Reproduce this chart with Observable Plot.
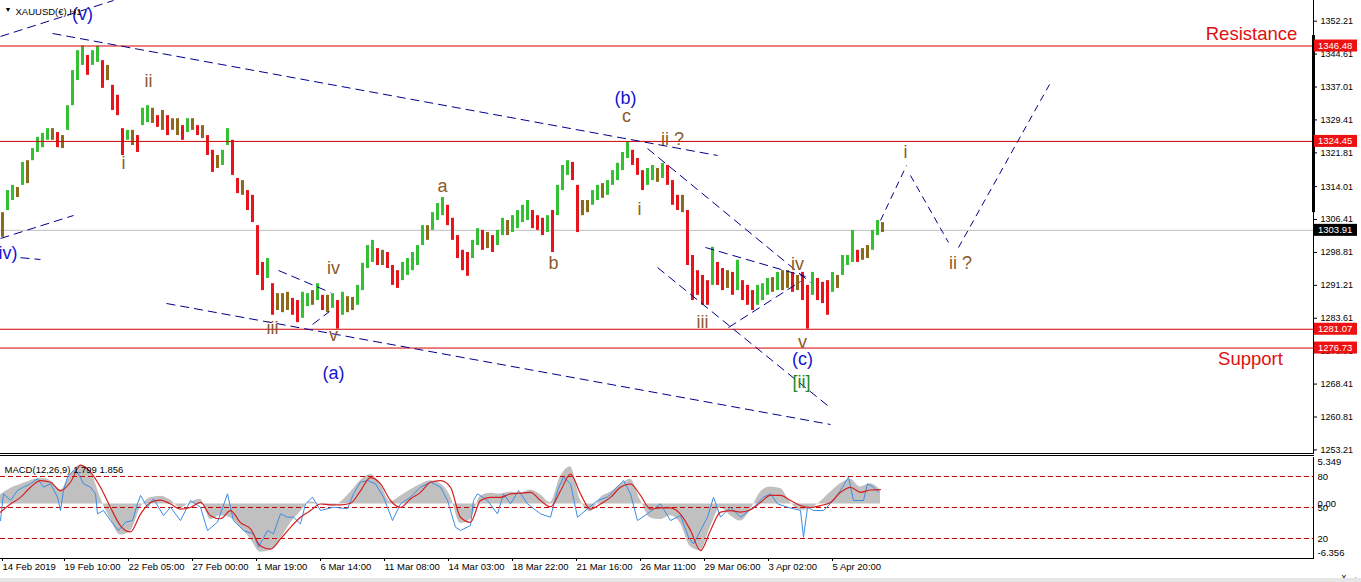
<!DOCTYPE html>
<html><head><meta charset="utf-8">
<script src="https://cdn.jsdelivr.net/npm/d3@7"></script>
<script src="https://cdn.jsdelivr.net/npm/@observablehq/plot@0.6"></script>
<style>
html,body{margin:0;padding:0;background:#fff;}
#wrap{position:relative;width:1361px;height:582px;overflow:hidden;background:#fff;font-family:"Liberation Sans",Arial,sans-serif;}
#main{position:absolute;left:0;top:0;}
#sep{position:absolute;left:0;top:453px;width:1314px;height:0;border-top:3px double #000;}
#macd{position:absolute;left:0;top:456px;}
#tabbar{position:absolute;left:0;top:578px;width:1361px;height:4px;background:#e6e6e6;}
</style>
</head><body>
<div id="wrap"><div id="main"></div><div id="sep"></div><div id="macd"></div><div id="tabbar"></div></div>
<script>
// ---------- data ----------
const symbolTitle = "XAUUSD(€),H1";
const priceTicks = [1352.21,1344.61,1337.01,1329.41,1321.81,1314.01,1306.41,1298.81,1291.21,1283.61,1276.01,1268.41,1260.81,1253.21];
const levelPrices = [1346.48, 1324.45, 1281.07, 1276.73];
const lastPrice = 1303.91;
const scrollRange = [1348.9, 1308.0];
const barsPerSample = 5;
const hi = [1308.0,1313.1,1314.3,1313.8,1319.6,1320.0,1322.8,1325.4,1326.3,1327.4,1327.4,1326.5,1325.8,1332.7,1340.8,1345.4,1346.5,1344.3,1345.4,1346.4,
1343.1,1342.0,1337.4,1335.1,1327.4,1327.0,1327.0,1325.8,1332.1,1332.7,1332.1,1330.4,1331.6,1330.4,1329.7,1329.7,1328.1,1329.7,1329.7,1328.1,
1328.1,1325.8,1322.4,1321.2,1322.4,1327.4,1324.7,1315.9,1315.4,1313.1,1312.0,1305.0,1296.5,1297.4,1291.6,1289.3,1289.3,1289.6,1288.2,1287.7,
1289.6,1289.3,1290.0,1291.6,1288.9,1288.9,1289.3,1287.7,1289.6,1288.6,1288.4,1291.2,1296.3,1300.4,1301.6,1299.7,1299.3,1298.8,1295.8,1294.6,
1296.5,1297.4,1298.8,1300.4,1305.0,1305.0,1308.0,1310.1,1311.5,1309.7,1306.7,1302.7,1299.3,1298.8,1301.6,1304.3,1303.9,1303.4,1302.7,1303.9,
1306.7,1306.2,1307.3,1308.5,1309.7,1310.8,1308.5,1307.3,1306.7,1307.3,1308.5,1314.3,1318.9,1320.0,1319.6,1314.3,1310.8,1310.8,1313.1,1314.3,
1314.7,1315.4,1317.7,1319.4,1321.9,1324.4,1322.4,1320.5,1317.7,1318.2,1318.9,1318.2,1319.4,1318.9,1315.4,1312.0,1312.0,1308.5,1298.1,1294.6,
1293.5,1292.3,1300.0,1296.5,1295.1,1294.6,1294.2,1297.0,1292.3,1291.2,1290.0,1291.2,1291.6,1292.8,1293.0,1294.2,1294.6,1294.6,1294.2,1293.5,
1294.2,1291.2,1294.2,1292.8,1291.9,1292.3,1294.2,1293.5,1298.1,1298.1,1303.9,1299.3,1299.7,1300.4,1303.9,1306.2,1305.7];
const lo = [1302.3,1308.5,1310.8,1311.5,1314.3,1314.7,1320.0,1321.9,1323.0,1324.7,1324.7,1323.0,1322.8,1327.0,1332.7,1338.5,1342.0,1339.7,1342.0,1342.7,
1336.7,1338.5,1331.6,1330.4,1321.2,1324.7,1323.5,1321.9,1328.1,1328.8,1328.6,1327.7,1327.0,1325.8,1327.0,1325.8,1324.7,1326.5,1327.0,1325.8,
1325.1,1321.2,1317.3,1318.2,1318.9,1323.5,1316.6,1312.4,1312.0,1308.5,1305.7,1293.5,1290.0,1292.8,1284.3,1285.4,1284.9,1285.4,1284.3,1282.6,
1283.6,1286.3,1286.6,1287.7,1285.4,1284.9,1285.9,1281.1,1284.3,1284.9,1285.4,1286.6,1290.0,1295.1,1296.5,1295.8,1295.8,1295.1,1291.2,1290.5,
1292.3,1293.5,1294.6,1295.8,1300.4,1301.6,1303.9,1306.2,1307.3,1305.0,1301.6,1297.4,1294.6,1293.3,1297.4,1300.4,1299.3,1299.7,1298.8,1300.4,
1302.7,1302.7,1303.4,1304.3,1305.7,1306.2,1304.3,1303.9,1302.7,1303.4,1298.8,1307.3,1313.1,1316.6,1315.4,1303.4,1307.3,1308.0,1309.7,1310.8,
1311.3,1312.0,1314.3,1315.4,1317.7,1320.5,1318.9,1316.6,1313.1,1314.3,1315.4,1315.0,1315.9,1314.3,1309.7,1308.5,1308.0,1295.8,1287.7,1288.9,
1286.6,1286.6,1291.2,1291.2,1290.0,1290.5,1288.9,1290.0,1287.7,1286.6,1285.4,1286.6,1287.7,1288.9,1289.6,1290.0,1290.0,1290.5,1289.6,1290.0,
1287.7,1281.1,1288.9,1287.7,1287.0,1284.3,1289.6,1290.5,1293.5,1295.8,1296.5,1296.5,1297.0,1297.4,1299.3,1302.7,1303.4];

// trendlines [bar1, price1, bar2, price2]
const trendLines = [[0,1348.68,113,1356.99],[52,1349.37,717,1321.20],[0,1302.03,73,1307.34],[20,1297.6,40,1297.18],
[166,1287.02,830,1259.08],[278,1294.64,330,1289.56],[312,1282.17,329,1285.17],[647,1322.81,810,1291.87],
[657,1295.33,827,1263.47],[705,1299.95,805,1293.25],[728,1281.48,800,1292.10]];
const projection = [[880,1306.19,906,1318.89],[910,1316.58,948,1301.11],[958,1299.95,1049,1337.59]];

const labelText = ["(v)","ii","i","(iv)","iii","iv","v","(a)","a","b","(b)","c","ii ?","i","iii","iv","v","(c)","[ii]","i","ii ?","Resistance","Support"];
const labelBar = [82,148,123,4.5,272,333,333,333,442,553,625,626,672,639,702,797,802,802,801,905,960,1251,1250];
const labelPrice = [1353.76,1338.28,1319.35,1298.57,1281.25,1295.10,1279.63,1270.85,1314.04,1296.26,1334.36,1330.20,1324.89,1308.73,1282.63,1296.02,1278.01,1274.09,1268.77,1321.89,1296.26,1349.14,1274.09];
const labelKind = ["major","minor","minor","major","minor","minor","minor","major","minor","minor","major","minor","minor","minor","minor","minor","minor","major","primary","minor","minor","level","level"];

const boxValues = [1346.48, 1324.45, 1281.07, 1276.73, 1303.91];
const boxKind = ["level","level","level","level","last"];

// MACD
const macdTitle = "MACD(12,26,9) 1.799 1.856";
const macdBarsPerSample = 10;
const histV = [1.2,2.0,2.5,3.0,3.3,3.0,1.8,3.8,5.0,4.2,
0.8,-2.0,-4.0,-3.5,-0.5,0.8,1.0,0.5,-0.5,0.2,
0.6,-2.0,-1.5,-1.8,-3.0,-4.5,-6.2,-6.0,-4.5,-2.5,
-1.0,0.3,0.0,-0.3,0.2,1.5,3.0,3.8,2.5,0.3,
1.0,1.8,2.5,3.0,2.6,1.0,-2.5,-2.0,1.0,1.4,
1.3,1.5,1.4,1.8,1.2,0.2,3.5,4.8,0.5,-1.0,
0.8,1.5,2.5,3.2,0.5,-1.8,-2.0,-1.5,-2.5,-5.5,
-6.0,-3.0,-0.5,-1.5,-2.2,-0.8,1.5,2.2,2.0,0.2,
-0.8,-0.6,0.3,1.5,2.6,3.2,2.2,2.6,1.8];
const signalV = [-1.05,0,0.85,2.15,3.0,2.8,1.7,2.8,5.0,4.1,
2.15,-0.45,-2.8,-3.6,-1.3,0.2,0.5,0,-0.65,-0.45,
0.2,-1.5,-1.9,-0.85,-2.4,-3.2,-5.4,-5.8,-4.5,-3.0,
-1.7,-0.85,0,-0.1,-0.1,0.1,1.7,3.4,2.6,0.45,
-0.45,0.65,1.5,2.8,3.0,2.15,-1.7,-2.35,0.45,0.85,
0.85,1.3,1.4,1.5,0.45,-0.35,1.7,3.85,1.3,-0.65,
0,0.85,2.15,2.6,1.1,-0.65,-0.5,-0.5,-1.3,-3.4,
-6.0,-3.4,-1.05,-0.85,-1.05,-0.75,0.2,1.1,1.1,0.45,
-0.2,-0.45,-0.2,0.2,1.5,2.15,1.5,1.8,1.86];
const blueX = [0,3,10,17,23,30,37,43,50,57,60,63,67,73,78,83,90,95,97,103,110,118,125,132,137,140,147,153,163,170,180,190,200,207,217,227,233,243,253,258,267,273,280,287,293,300,305,312,320,333,347,353,360,367,375,383,392,400,410,420,430,440,447,455,460,470,473,477,487,497,503,510,518,527,540,550,557,563,570,577,587,597,607,620,623,630,637,647,660,670,680,688,693,700,707,713,720,730,740,753,763,770,777,787,800,803,807,813,823,833,840,848,853,863,867,873,878];
const blueV = [-2.13,1.31,0.45,1.74,2.17,2.60,3.24,2.17,2.60,0.88,-0.84,1.74,3.45,4.31,3.88,2.60,2.17,1.31,-1.27,-0.84,-2.13,-3.41,-2.34,-2.13,0.02,1.10,-0.41,0.67,-1.48,-0.41,-2.13,0.45,-0.41,-3.41,-2.34,1.31,-2.13,-3.41,-3.84,-5.56,-3.41,-3.84,-1.27,-1.70,-1.70,-2.56,0.02,0.88,-0.84,-0.41,-0.62,1.31,2.81,3.02,2.60,0.88,-2.13,0.02,0.88,2.17,2.81,2.17,0.45,-2.98,-3.41,-2.77,0.45,1.31,0.45,-1.27,1.31,0.02,1.74,0.02,-1.27,-1.70,1.74,3.45,2.60,-1.70,-0.62,0.45,0.88,2.60,3.02,1.31,-2.13,-1.27,0.02,-2.13,-1.48,-4.27,-5.13,-3.41,-1.70,0.88,-1.70,-0.41,-1.70,-0.41,0.88,1.31,0.02,-0.41,-0.84,-4.27,-0.41,-0.84,-0.84,0.45,1.74,3.45,0.45,0.45,2.60,2.17,1.52];
const macdLevels = [3.54, -0.45, -4.44];
const macdAxisV = [5.349, 3.54, 0, -0.45, -4.44, -6.356];
const macdAxisT = ["5.349","80","0.00","50","20","-6.356"];
const dateTickBars = [1,63,127,191,255,319,383,447,511,575,639,703,767,831];
const dateLabels = ["14 Feb 2019","19 Feb 10:00","22 Feb 05:00","27 Feb 00:00","1 Mar 19:00","6 Mar 14:00","11 Mar 08:00","14 Mar 03:00","18 Mar 22:00","21 Mar 16:00","26 Mar 11:00","29 Mar 06:00","3 Apr 02:00","5 Apr 20:00"];

// ---------- styling ----------
const FONT = "'Liberation Sans', Arial, sans-serif";
const kindColor = {major:"#1414d2", minor:"#8b5a2b", primary:"#1e8a1e", level:"#e01010"};
const boxColor = {level:"#ee1111", last:"#000000"};
const UP = "#33c033", DOWN = "#e8141c", FLAT = "#8c6a1c";

// ---------- derived tables ----------
const bars = hi.map((h, i) => {
  const mid = (h + lo[i]) / 2;
  const prev = i > 0 ? (hi[i-1] + lo[i-1]) / 2 : mid;
  const d = mid - prev;
  return {bar: i * barsPerSample, hi: h, lo: lo[i], color: d > 0.6 ? UP : d < -0.6 ? DOWN : FLAT};
});
const tl = trendLines.map(([x1,y1,x2,y2]) => ({x1,y1,x2,y2}));
const pj = projection.map(([x1,y1,x2,y2]) => ({x1,y1,x2,y2}));
const labels = labelText.map((t,i) => ({t, x: labelBar[i], y: labelPrice[i], kind: labelKind[i]}));
const waveLabels = labels.filter(d => d.kind !== "level");
const levelLabels = labels.filter(d => d.kind === "level");
const hist = histV.map((v,i) => ({x: i * macdBarsPerSample, v}));
const sig = signalV.map((v,i) => ({x: i * macdBarsPerSample, v}));
const blue = blueX.map((x,i) => ({x, v: blueV[i]}));
const dateMap = new Map(dateTickBars.map((b,i) => [b, dateLabels[i]]));

// ---------- main chart ----------
const main = Plot.plot({
  width: 1361, height: 453,
  marginLeft: 0, marginRight: 48, marginTop: 0, marginBottom: 0,
  x: {domain: [0, 1313], axis: null},
  y: {domain: [1252.38, 1356.99], axis: null},
  style: {fontFamily: FONT, fontSize: "9px", background: "#fff", color: "#000", overflow: "hidden"},
  marks: [
    Plot.ruleY([lastPrice], {stroke: "#c0c0c0"}),
    Plot.ruleX(bars, {x: "bar", y1: "lo", y2: "hi", stroke: "color", strokeWidth: 3, dx: 2}),
    Plot.ruleY(levelPrices, {stroke: "#d40000", strokeWidth: 1}),
    Plot.link(tl, {x1: "x1", y1: "y1", x2: "x2", y2: "y2", stroke: "#00008b", strokeWidth: 1, strokeDasharray: "9,5"}),
    Plot.link(pj, {x1: "x1", y1: "y1", x2: "x2", y2: "y2", stroke: "#00008b", strokeWidth: 1, strokeDasharray: "7,5"}),
    Plot.text(waveLabels, {x: "x", y: "y", text: "t", fill: d => kindColor[d.kind], fontSize: 18, fontFamily: FONT}),
    Plot.text(levelLabels, {x: "x", y: "y", text: "t", fill: d => kindColor[d.kind], fontSize: 18.5, fontFamily: FONT}),
    Plot.axisY(priceTicks, {anchor: "right", tickSize: 3, tickPadding: 4, tickFormat: d => d.toFixed(2), fontSize: 9, fill: "#000"}),
    Plot.frame({anchor: "right", stroke: "#000"}),
    Plot.ruleX([1313], {y1: scrollRange[0], y2: scrollRange[1], stroke: "#000", strokeWidth: 3}),
    Plot.text([symbolTitle], {frameAnchor: "top-left", dx: 15, dy: 8, textAnchor: "start", fontSize: 9.5, fill: "#000"}),
    Plot.text(["▼"], {frameAnchor: "top-left", dx: 4, dy: 7, textAnchor: "start", fontSize: 7, fill: "#000"})
  ]
});
// price label boxes on the right axis, placed through the plot's own scales
{
  const ys = main.scale("y"), xs = main.scale("x");
  const x0 = xs.apply(1313);
  const g = d3.select(main).append("g").attr("text-anchor", "start");
  boxValues.forEach((v, i) => {
    const y = ys.apply(v);
    g.append("rect").attr("x", x0 + 1).attr("y", y - 6).attr("width", 43).attr("height", 12).attr("fill", boxColor[boxKind[i]]);
    g.append("text").attr("x", x0 + 5).attr("y", y).attr("dy", "0.35em").attr("fill", "#fff").attr("text-anchor", "start")
      .attr("font-size", 9.5).attr("font-family", FONT).text(v.toFixed(2));
  });
}
document.getElementById("main").appendChild(main);

// ---------- MACD panel ----------
const macd = Plot.plot({
  width: 1361, height: 126,
  marginLeft: 0, marginRight: 48, marginTop: 1, marginBottom: 24,
  x: {domain: [0, 1313], axis: null},
  y: {domain: [-7.014, 5.985], axis: null},
  style: {fontFamily: FONT, fontSize: "9.5px", background: "#fff", color: "#000", overflow: "hidden"},
  marks: [
    Plot.areaY(hist, {x: "x", y1: 0, y2: "v", fill: "#c0c0c0", curve: "monotone-x"}),
    Plot.ruleY(macdLevels, {stroke: "#c80000", strokeDasharray: "5,3"}),
    Plot.line(blue, {x: "x", y: "v", stroke: "#3c8ce6", strokeWidth: 1}),
    Plot.line(sig, {x: "x", y: "v", stroke: "#d42020", strokeWidth: 1.2, curve: "monotone-x"}),
    Plot.frame({anchor: "bottom", stroke: "#000"}),
    Plot.frame({anchor: "right", stroke: "#000"}),
    Plot.text(macdAxisV, {y: d => d, text: (d, i) => macdAxisT[i], frameAnchor: "right", dx: 4, textAnchor: "start", fontSize: 9.5, fill: "#000"}),
    Plot.axisX(dateTickBars, {anchor: "bottom", tickSize: 3, tickPadding: 2, textAnchor: "start", dx: 1, tickFormat: d => dateMap.get(d), fontSize: 9.5, fill: "#000"}),
    Plot.text([macdTitle], {frameAnchor: "top-left", dx: 4, dy: 9, textAnchor: "start", fontSize: 9.5, fill: "#000"})
  ]
});
document.getElementById("macd").appendChild(macd);
</script>
</body></html>
